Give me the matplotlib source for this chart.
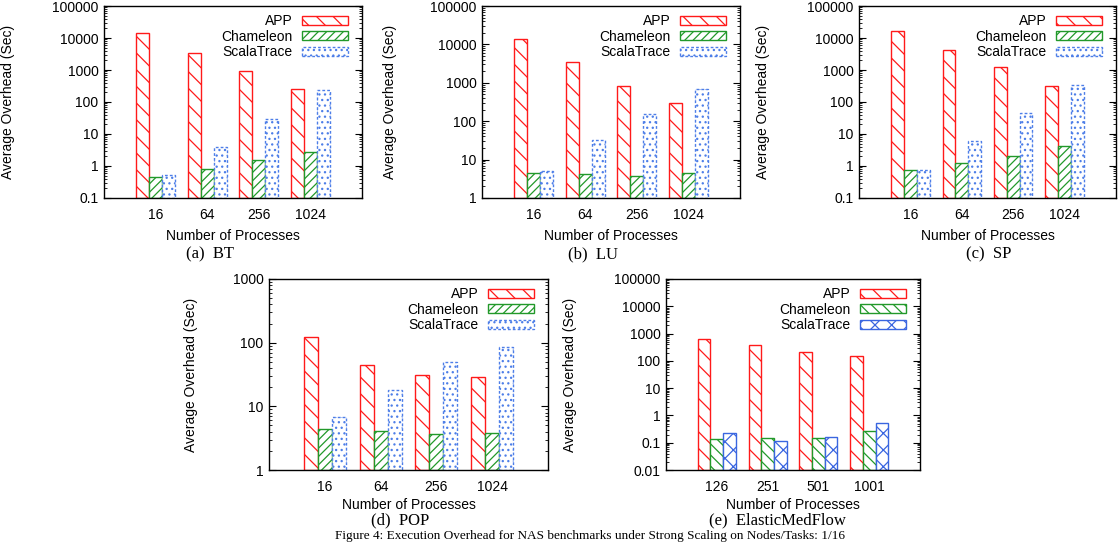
import matplotlib
matplotlib.use('Agg')
import matplotlib.pyplot as plt
from matplotlib.ticker import FixedLocator, FixedFormatter, LogLocator, NullFormatter
import numpy as np

plt.rcParams['font.family'] = ['Liberation Sans', 'DejaVu Sans']
plt.rcParams['hatch.linewidth'] = 0.9

W, H = 1118, 542

series_names = ['APP', 'Chameleon', 'ScalaTrace']
nas_procs = ['16', '64', '256', '1024']
emf_procs = ['126', '251', '501', '1001']

bt_app = [14000, 3470, 930, 255]
bt_cham = [0.44, 0.79, 1.5, 2.67]
bt_scala = [0.52, 3.9, 30, 243]

lu_app = [13800, 3400, 840, 290]
lu_cham = [4.5, 4.25, 3.77, 4.6]
lu_scala = [5.2, 33, 156, 675]

sp_app = [16200, 4350, 1240, 326]
sp_cham = [0.76, 1.24, 2.0, 4.25]
sp_scala = [0.76, 5.9, 44.5, 341]

pop_app = [123, 44.7, 30.7, 28.6]
pop_cham = [4.4, 4.16, 3.64, 3.78]
pop_scala = [6.9, 17.9, 50.4, 84.7]

emf_app = [643, 366, 214, 157]
emf_cham = [0.14, 0.148, 0.148, 0.268]
emf_scala = [0.233, 0.118, 0.166, 0.527]

RED = '#ff1a1a'
GREEN = '#22992a'
BLUE = '#4d7ee8'
BLUE2 = '#3a66e0'

styles_nas = [
    dict(edgecolor=RED, hatch='\\\\', linestyle='-'),
    dict(edgecolor=GREEN, hatch='////', linestyle='-'),
    dict(edgecolor=BLUE, hatch='...', linestyle=(0, (2, 1.5))),
]
styles_emf = [
    dict(edgecolor=RED, hatch='\\\\', linestyle='-'),
    dict(edgecolor=GREEN, hatch='\\\\\\', linestyle='-'),
    dict(edgecolor=BLUE2, hatch='xx', linestyle='-'),
]

panels = [
    dict(procs=nas_procs, data=[bt_app, bt_cham, bt_scala], ylim=(0.1, 1e5),
         box=(104, 362, 6, 198), cap='(a)  BT', capxy=(210, 254), xlab_y=236, ylab_x=15, st=styles_nas),
    dict(procs=nas_procs, data=[lu_app, lu_cham, lu_scala], ylim=(1, 1e5),
         box=(482, 740, 6, 198), cap='(b)  LU', capxy=(593, 254), xlab_y=236, ylab_x=397, st=styles_nas),
    dict(procs=nas_procs, data=[sp_app, sp_cham, sp_scala], ylim=(0.1, 1e5),
         box=(859, 1116, 6, 198), cap='(c)  SP', capxy=(989, 254), xlab_y=236, ylab_x=770, st=styles_nas),
    dict(procs=nas_procs, data=[pop_app, pop_cham, pop_scala], ylim=(1, 1e3),
         box=(269, 548, 279, 470), cap='(d)  POP', capxy=(400, 520), xlab_y=505, ylab_x=198, st=styles_nas),
    dict(procs=emf_procs, data=[emf_app, emf_cham, emf_scala], ylim=(0.01, 1e5),
         box=(666, 920, 279, 470), cap='(e)  ElasticMedFlow', capxy=(777, 520), xlab_y=505, ylab_x=577, st=styles_emf),
]

fig = plt.figure(figsize=(W / 100, H / 100), dpi=100)

def fmt(v):
    if v >= 1:
        return '%d' % int(round(v))
    return ('%g' % v)

for p in panels:
    l, r, t, b = p['box']
    wpx, hpx = r - l, b - t
    ax = fig.add_axes([l / W, 1 - b / H, wpx / W, hpx / H])
    ax.set_yscale('log')
    ymin, ymax = p['ylim']
    x = np.arange(len(p['procs']))
    width = 0.25
    for i, (vals, st) in enumerate(zip(p['data'], p['st'])):
        vals = np.array(vals, dtype=float)
        ax.bar(x + (i - 1) * width, vals - ymin, bottom=ymin, width=width,
               facecolor='white', linewidth=1.0, label=series_names[i], **st)
    ax.set_xlim(-1, len(x))
    ax.set_ylim(ymin, ymax)
    decades = 10.0 ** np.arange(np.log10(ymin), np.log10(ymax) + 0.5)
    ax.yaxis.set_major_locator(FixedLocator(decades))
    ax.yaxis.set_major_formatter(FixedFormatter([fmt(d) for d in decades]))
    ax.yaxis.set_minor_locator(LogLocator(base=10, subs=np.arange(2, 10), numticks=50))
    ax.yaxis.set_minor_formatter(NullFormatter())
    ax.set_xticks(x)
    ax.set_xticklabels(p['procs'])
    ax.tick_params(axis='x', length=0, pad=7, labelsize=10)
    ax.tick_params(axis='y', which='major', direction='in', length=5, width=0.8,
                   right=True, labelsize=10, pad=4)
    ax.tick_params(axis='y', which='minor', direction='in', length=2.5, width=0.6, right=True)
    for s in ax.spines.values():
        s.set_linewidth(1.0)
    ax.set_ylabel('Average Overhead (Sec)', fontsize=10)
    ax.yaxis.set_label_coords((p['ylab_x'] - l) / wpx, 0.5)
    cx = (l + r) / 2
    fig.text(cx / W, 1 - p['xlab_y'] / H, 'Number of Processes', ha='center', va='center', fontsize=10)
    fig.text(p['capxy'][0] / W, 1 - p['capxy'][1] / H, p['cap'], ha='center', va='center',
             fontsize=12, family=['Liberation Serif', 'DejaVu Serif'])
    ax.legend(loc='upper right', bbox_to_anchor=(1 - 14 / wpx, 1 - 8 / hpx),
              frameon=False, markerfirst=False, fontsize=10, handlelength=3.3,
              handleheight=0.6, handletextpad=0.7, labelspacing=0.12,
              borderpad=0, borderaxespad=0)

fig.text(590 / W, 1 - 541.5 / H,
         'Figure 4: Execution Overhead for NAS benchmarks under Strong Scaling on Nodes/Tasks: 1/16',
         ha='center', va='bottom', fontsize=9.5, family=['Liberation Serif', 'DejaVu Serif'])

fig.savefig('out.png', dpi=100)
